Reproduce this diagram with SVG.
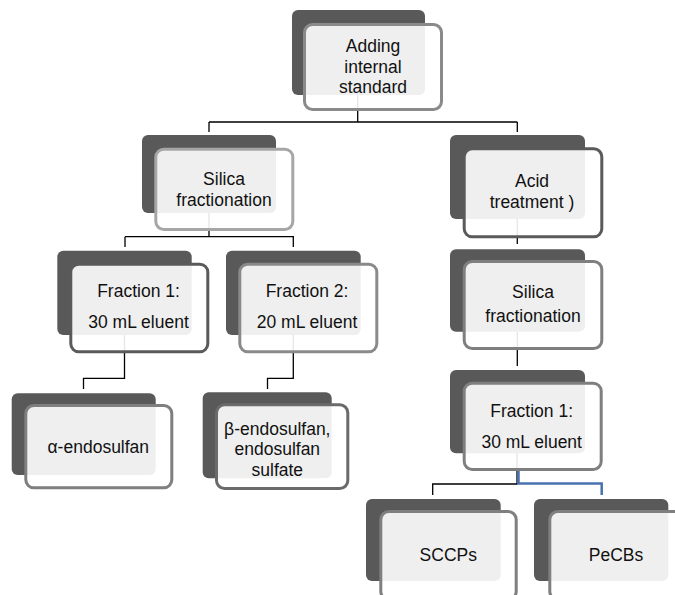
<svg xmlns="http://www.w3.org/2000/svg" width="675" height="595" viewBox="0 0 675 595">
<style>
.bk{fill:#595959}
.fr{fill:#ffffff;fill-opacity:0.9;stroke-width:3}
.c{fill:none;stroke:#000;stroke-width:1.3}
.t{font-family:"Liberation Sans",Arial,sans-serif;font-size:17.5px;fill:#111;text-anchor:middle}
</style>
<rect width="675" height="595" fill="#ffffff"/>
<g id="connectors">
<path class="c" d="M357.7 95V122M209 122H517.3M209 122V132M517.3 122V132"/>
<path class="c" d="M209 213V236.7M125 236.7H294M125 236.7V247M293.3 236.7V247"/>
<path class="c" d="M124.5 335V378.3H83.5V389"/>
<path class="c" d="M293.3 335V378.3H267.5V389"/>
<path class="c" d="M517.3 219V244"/>
<path class="c" d="M517.3 331.7V366"/>
<path class="c" d="M517 453V484H432.7V495"/>
<path d="M518.5 471V483.5H601.7V495" fill="none" stroke="#4a72b0" stroke-width="2.5"/>
</g>
<g id="n1">
<rect class="bk" x="292" y="10" width="133" height="85" rx="6"/>
<rect class="fr" x="304.5" y="24.5" width="137" height="85" rx="8" stroke="#8a8a8a"/>
<text class="t" x="373" y="52">Adding</text>
<text class="t" x="373" y="73">internal</text>
<text class="t" x="373" y="93">standard</text>
</g>
<g id="n2">
<rect class="bk" x="142" y="135" width="134" height="78" rx="6"/>
<rect class="fr" x="155.8" y="149.2" width="137" height="80.3" rx="8" stroke="#a6a6a6"/>
<text class="t" x="224" y="185">Silica</text>
<text class="t" x="224" y="206">fractionation</text>
</g>
<g id="n3">
<rect class="bk" x="450" y="135" width="135" height="84" rx="6"/>
<rect class="fr" x="464.2" y="148.8" width="137.6" height="88" rx="8" stroke="#5a5a5a"/>
<text class="t" x="532" y="186.7">Acid</text>
<text class="t" x="532" y="208.3">treatment )</text>
</g>
<g id="n4">
<rect class="bk" x="450" y="249.3" width="135" height="82.4" rx="6"/>
<rect class="fr" x="464.2" y="261.5" width="137.6" height="87" rx="8" stroke="#7f7f7f"/>
<text class="t" x="533" y="298.3">Silica</text>
<text class="t" x="533" y="321.7">fractionation</text>
</g>
<g id="n5">
<rect class="bk" x="57.3" y="250.7" width="134.4" height="84.3" rx="6"/>
<rect class="fr" x="70.8" y="264.2" width="137" height="87.6" rx="8" stroke="#5a5a5a"/>
<text class="t" x="138.5" y="296.7">Fraction 1:</text>
<text class="t" x="138.5" y="328.3">30 mL eluent</text>
</g>
<g id="n6">
<rect class="bk" x="226" y="250.7" width="134.7" height="84.3" rx="6"/>
<rect class="fr" x="239.8" y="264.2" width="137" height="87.6" rx="8" stroke="#8a8a8a"/>
<text class="t" x="307" y="296.7">Fraction 2:</text>
<text class="t" x="307" y="328.3">20 mL eluent</text>
</g>
<g id="n7">
<rect class="bk" x="11.7" y="393.3" width="144" height="81.7" rx="6"/>
<rect class="fr" x="25.8" y="405.5" width="146" height="82.3" rx="8" stroke="#7f7f7f"/>
<text class="t" x="98.3" y="453.3">α-endosulfan</text>
</g>
<g id="n8">
<rect class="bk" x="202.7" y="392.3" width="129" height="86" rx="6"/>
<rect class="fr" x="216.5" y="404.8" width="131.3" height="83.7" rx="8" stroke="#6a6a6a"/>
<text class="t" x="277.3" y="435">β-endosulfan,</text>
<text class="t" x="277.3" y="455">endosulfan</text>
<text class="t" x="277.3" y="476">sulfate</text>
</g>
<g id="n9">
<rect class="bk" x="450" y="370" width="135" height="83.3" rx="6"/>
<rect class="fr" x="464.2" y="383.2" width="137" height="86.3" rx="8" stroke="#7f7f7f"/>
<text class="t" x="531.7" y="417.3">Fraction 1:</text>
<text class="t" x="531.7" y="448.3">30 mL eluent</text>
</g>
<g id="n10">
<rect class="bk" x="366" y="499" width="134.7" height="82" rx="6"/>
<rect class="fr" x="380.8" y="511.5" width="135.4" height="88" rx="8" stroke="#7f7f7f"/>
<text class="t" x="448.3" y="560.7">SCCPs</text>
</g>
<g id="n11">
<rect class="bk" x="534" y="499" width="134.3" height="82" rx="6"/>
<rect class="fr" x="549.8" y="511.5" width="137" height="88" rx="8" stroke="#7f7f7f"/>
<text class="t" x="616" y="560.7">PeCBs</text>
</g>
</svg>
